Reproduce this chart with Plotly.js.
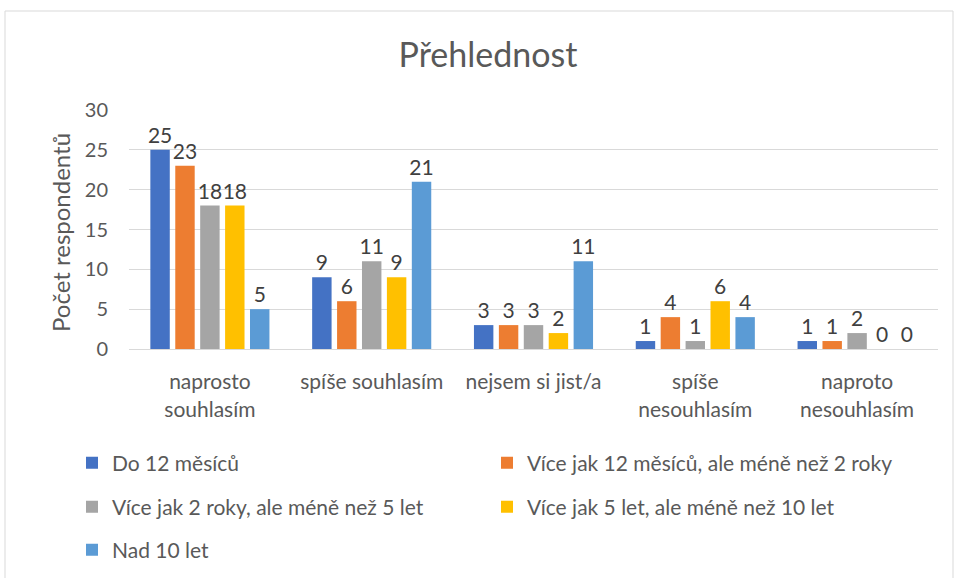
<!DOCTYPE html>
<html><head><meta charset="utf-8">
<script src="https://cdn.plot.ly/plotly-3.0.1.min.js"></script>
<style>html,body{margin:0;padding:0;background:#fff}</style>
</head><body>
<div id="chart" style="width:954px;height:578px"></div>
<script>
const categories = ["naprosto<br>souhlasím", "spíše souhlasím", "nejsem si jist/a", "spíše<br>nesouhlasím", "naproto<br>nesouhlasím"];
const seriesNames = ["Do 12 měsíců", "Více jak 12 měsíců, ale méně než 2 roky", "Více jak 2 roky, ale méně než 5 let", "Více jak 5 let, ale méně než 10 let", "Nad 10 let"];
const do12 = [25, 9, 3, 1, 1];
const od12do2 = [23, 6, 3, 4, 1];
const od2do5 = [18, 11, 3, 1, 2];
const od5do10 = [18, 9, 2, 6, 0];
const nad10 = [5, 21, 11, 4, 0];
const colors = ["#4472C4", "#ED7D31", "#A5A5A5", "#FFC000", "#5B9BD5"];
const seriesValues = [do12, od12do2, od2do5, od5do10, nad10];
const yTicks = [0, 5, 10, 15, 20, 25, 30];
const yTitle = "Počet respondentů";
const legendIds = ["legend", "legend2", "legend3", "legend4", "legend5"];

const FONT = "Lato, 'Noto Sans', sans-serif";
const traces = seriesValues.map((vals, i) => ({
  type: "bar",
  name: seriesNames[i],
  x: categories,
  y: vals,
  legend: legendIds[i],
  marker: {color: colors[i]},
  text: vals.map(String),
  textposition: "outside",
  constraintext: "none",
  textfont: {family: FONT, size: 21, color: "#404040"},
  cliponaxis: false,
  hoverinfo: "none"
}));

// legend slot positions (px in the 954x578 picture)
const legendSlots = [[72, 463], [487, 463], [72, 507], [487, 507], [72, 550]];
const legendAt = (px, py) => ({
  orientation: "v", xref: "container", yref: "container",
  x: px / 954, xanchor: "left", y: 1 - py / 578, yanchor: "middle",
  font: {family: FONT, size: 21, color: "#595959"},
  itemwidth: 30, bgcolor: "rgba(0,0,0,0)"
});

const layout = {
  width: 954, height: 578,
  margin: {l: 129, r: 16, t: 110, b: 229, autoexpand: false},
  paper_bgcolor: "#fff", plot_bgcolor: "#fff",
  font: {family: FONT, color: "#595959"},
  title: {text: "Přehlednost", font: {family: FONT, size: 34, color: "#595959"}, x: 0.5115, xanchor: "center", y: 0.905, yanchor: "middle"},
  barmode: "group",
  bargap: 0.23,
  bargroupgap: 0.22,
  xaxis: {
    tickfont: {family: FONT, size: 21, color: "#595959"},
    showline: true, linecolor: "#D9D9D9", linewidth: 1,
    ticks: "", showgrid: false, fixedrange: true, ticklabelstandoff: 14
  },
  yaxis: {
    range: [0, 30], tickvals: yTicks, ticktext: yTicks.map(String),
    tickfont: {family: FONT, size: 20, color: "#595959"},
    showgrid: true, gridcolor: "#D9D9D9", gridwidth: 1,
    zeroline: false, showline: false, ticks: "", ticklen: 0, ticklabelstandoff: 20,
    fixedrange: true
  },
  annotations: [{
    text: yTitle, xref: "paper", yref: "paper",
    x: (60 - 129) / 809, y: (349 - 233) / 239, xanchor: "center", yanchor: "middle",
    textangle: -90, showarrow: false,
    font: {family: FONT, size: 24, color: "#595959"}
  }],
  showlegend: true,
  shapes: [{
    type: "rect", xref: "paper", yref: "paper",
    x0: (5 - 129) / 809, x1: (953 - 129) / 809,
    y0: (349 - 600) / 239, y1: (349 - 11) / 239,
    line: {color: "#D9D9D9", width: 1}, fillcolor: "rgba(0,0,0,0)", layer: "below"
  }]
};
legendIds.forEach((id, i) => { layout[id] = legendAt(legendSlots[i][0], legendSlots[i][1]); });

Plotly.newPlot("chart", traces, layout, {displayModeBar: false, staticPlot: true});
</script>
</body></html>
